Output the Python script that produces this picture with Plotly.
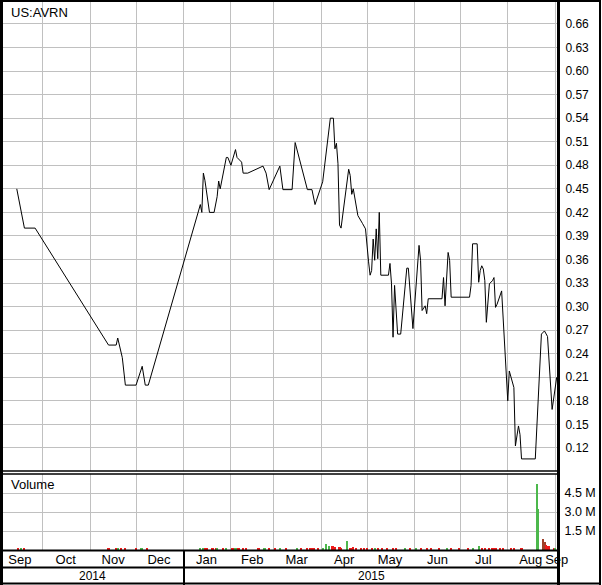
import plotly.graph_objects as go
import pandas as pd

# ---------------- data ----------------
symbol = "US:AVRN"

price_dates = [
    "2014-09-14", "2014-09-19", "2014-09-26", "2014-11-13", "2014-11-18", "2014-11-19",
    "2014-11-22", "2014-11-24", "2014-12-01", "2014-12-05", "2014-12-07", "2014-12-09",
    "2015-01-11", "2015-01-12", "2015-01-13", "2015-01-14", "2015-01-15", "2015-01-18",
    "2015-01-21", "2015-01-23", "2015-01-24", "2015-01-25", "2015-01-26", "2015-01-29",
    "2015-01-30", "2015-02-01", "2015-02-04", "2015-02-05", "2015-02-08", "2015-02-09",
    "2015-02-12", "2015-02-22", "2015-02-24", "2015-02-26", "2015-03-05", "2015-03-07",
    "2015-03-13", "2015-03-15", "2015-03-23", "2015-03-26", "2015-03-28", "2015-03-31",
    "2015-04-02", "2015-04-07", "2015-04-09", "2015-04-10", "2015-04-11", "2015-04-12",
    "2015-04-13", "2015-04-14", "2015-04-19", "2015-04-20", "2015-04-21", "2015-04-22",
    "2015-04-25", "2015-04-28", "2015-04-30",
    "2015-05-02", "2015-05-03", "2015-05-04", "2015-05-05", "2015-05-06", "2015-05-07",
    "2015-05-08", "2015-05-09", "2015-05-10", "2015-05-15", "2015-05-16", "2015-05-17",
    "2015-05-18", "2015-05-19", "2015-05-21", "2015-05-23", "2015-05-27", "2015-05-28",
    "2015-05-31", "2015-06-02", "2015-06-04", "2015-06-05", "2015-06-06", "2015-06-08",
    "2015-06-09", "2015-06-10", "2015-06-19", "2015-06-20", "2015-06-21", "2015-06-23",
    "2015-06-24", "2015-06-25", "2015-07-07", "2015-07-08", "2015-07-09", "2015-07-12",
    "2015-07-13", "2015-07-14", "2015-07-15", "2015-07-16", "2015-07-17", "2015-07-18",
    "2015-07-20", "2015-07-22", "2015-07-23", "2015-07-24", "2015-07-25", "2015-07-28",
    "2015-07-29", "2015-07-31", "2015-08-01", "2015-08-02", "2015-08-04", "2015-08-05",
    "2015-08-06", "2015-08-08", "2015-08-09", "2015-08-10", "2015-08-19", "2015-08-23",
    "2015-08-25", "2015-08-27", "2015-08-30", "2015-08-31", "2015-09-02",
]
price_values = [
    0.450, 0.400, 0.400, 0.251, 0.251, 0.260,
    0.235, 0.200, 0.200, 0.224, 0.200, 0.200,
    0.423, 0.430, 0.420, 0.470, 0.461, 0.420,
    0.420, 0.440, 0.460, 0.450, 0.460, 0.490,
    0.490, 0.480, 0.500, 0.490, 0.484, 0.470,
    0.470, 0.479, 0.470, 0.449, 0.479, 0.449,
    0.449, 0.509, 0.449, 0.449, 0.430, 0.448,
    0.459, 0.540, 0.540, 0.501, 0.508, 0.482,
    0.404, 0.400, 0.475, 0.467, 0.443, 0.450,
    0.416, 0.406, 0.399,
    0.357, 0.340, 0.346, 0.386, 0.359, 0.399,
    0.361, 0.420, 0.340, 0.340, 0.355, 0.329,
    0.261, 0.327, 0.265, 0.265, 0.349, 0.349,
    0.272, 0.320, 0.378, 0.359, 0.295, 0.301,
    0.291, 0.310, 0.310, 0.337, 0.301, 0.369,
    0.359, 0.312, 0.312, 0.327, 0.380, 0.380,
    0.331, 0.346, 0.352, 0.348, 0.333, 0.280,
    0.329, 0.333, 0.337, 0.299, 0.303, 0.320,
    0.286, 0.2225, 0.180, 0.218, 0.206, 0.197,
    0.1225, 0.148, 0.137, 0.106, 0.106, 0.265,
    0.269, 0.262, 0.169, 0.182, 0.210,
]

vol_dates = [
    "2014-09-15", "2014-09-17", "2014-09-19", "2014-11-13", "2014-11-18", "2014-11-19",
    "2014-11-21", "2014-11-24", "2014-12-01", "2014-12-04", "2014-12-05", "2014-12-08",
    "2015-01-12", "2015-01-14", "2015-01-15", "2015-01-16", "2015-01-20", "2015-01-22",
    "2015-01-23", "2015-01-27", "2015-01-29", "2015-02-02", "2015-02-04", "2015-02-06",
    "2015-02-09", "2015-02-11", "2015-02-19", "2015-02-23", "2015-02-26", "2015-03-02",
    "2015-03-05", "2015-03-09", "2015-03-16", "2015-03-19", "2015-03-23", "2015-03-25",
    "2015-03-27", "2015-03-30", "2015-04-02", "2015-04-04", "2015-04-06", "2015-04-08",
    "2015-04-09", "2015-04-10", "2015-04-13", "2015-04-14", "2015-04-18", "2015-04-20",
    "2015-04-21", "2015-04-22", "2015-04-24", "2015-04-27", "2015-04-29", "2015-05-01",
    "2015-05-04", "2015-05-06", "2015-05-08", "2015-05-11", "2015-05-14", "2015-05-18",
    "2015-05-20", "2015-05-26", "2015-05-29", "2015-06-02", "2015-06-05", "2015-06-09",
    "2015-06-12", "2015-06-17", "2015-06-22", "2015-06-25", "2015-06-30", "2015-07-06",
    "2015-07-09", "2015-07-13", "2015-07-15", "2015-07-17", "2015-07-20", "2015-07-22",
    "2015-07-24", "2015-07-27", "2015-07-29", "2015-08-03", "2015-08-05", "2015-08-10",
    "2015-08-20", "2015-08-21", "2015-08-24", "2015-08-25", "2015-08-26", "2015-08-27",
    "2015-08-28", "2015-08-31", "2015-09-01",
]
vol_millions = [
    0.08, 0.08, 0.08, 0.08, 0.10, 0.10,
    0.08, 0.12, 0.08, 0.10, 0.12, 0.08,
    0.15, 0.10, 0.08, 0.08, 0.08, 0.10,
    0.08, 0.08, 0.08, 0.08, 0.08, 0.08,
    0.10, 0.08, 0.08, 0.08, 0.08, 0.10,
    0.08, 0.08, 0.10, 0.08, 0.10, 0.14,
    0.12, 0.10, 0.12, 0.47, 0.30, 0.28,
    0.32, 0.22, 0.25, 0.14, 0.73, 0.18,
    0.15, 0.20, 0.14, 0.18, 0.12, 0.10,
    0.08, 0.08, 0.08, 0.08, 0.08, 0.08,
    0.08, 0.08, 0.08, 0.08, 0.08, 0.08,
    0.08, 0.08, 0.08, 0.08, 0.08, 0.08,
    0.10, 0.34, 0.12, 0.10, 0.10, 0.08,
    0.10, 0.08, 0.08, 0.08, 0.08, 0.08,
    5.20, 3.24, 0.87, 0.65, 0.36, 0.34,
    0.30, 0.08, 0.10,
]
vol_direction = [
    "d", "u", "d", "d", "d", "u",
    "d", "d", "d", "u", "u", "d",
    "u", "u", "d", "d", "d", "d",
    "u", "d", "u", "d", "u", "d",
    "d", "d", "d", "u", "d", "d",
    "u", "d", "u", "d", "d", "d",
    "d", "d", "u", "u", "u", "d",
    "d", "d", "d", "d", "u", "d",
    "d", "d", "d", "d", "d", "d",
    "d", "u", "d", "d", "d", "d",
    "d", "u", "d", "u", "d", "d",
    "d", "d", "u", "d", "d", "d",
    "u", "u", "d", "d", "d", "d",
    "d", "d", "d", "d", "d", "d",
    "u", "u", "b", "b", "d", "d",
    "d", "d", "u",
]

price_ticks = [0.12, 0.15, 0.18, 0.21, 0.24, 0.27, 0.30, 0.33, 0.36, 0.39,
               0.42, 0.45, 0.48, 0.51, 0.54, 0.57, 0.60, 0.63, 0.66]
vol_ticks_m = [1.5, 3.0, 4.5]
month_label_dates = ["2014-09-16", "2014-10-16", "2014-11-16", "2014-12-16", "2015-01-16",
                     "2015-02-15", "2015-03-16", "2015-04-16", "2015-05-16", "2015-06-16",
                     "2015-07-16", "2015-08-16", "2015-09-02"]
month_labels = ["Sep", "Oct", "Nov", "Dec", "Jan", "Feb", "Mar", "Apr", "May", "Jun",
                "Jul", "Aug", "Sep"]
years = ["2014", "2015"]

x_start, x_end = "2014-09-05", "2015-09-03 12:00"

# ---------------- figure ----------------
W, H = 602, 585
ML, MR, MT, MB = 3, 43, 2, 35
PW, PH = W - ML - MR, H - MT - MB
FONT = "Arial, Liberation Sans, sans-serif"
GRID = "#C0C0C0"


def px_x(p):
    return (p - ML) / PW


def px_y(p):
    return (H - MB - p) / PH


main_bottom = px_y(471)
vol_top = px_y(474)

month_starts = pd.date_range("2014-10-01", "2015-09-01", freq="MS").strftime("%Y-%m-%d").tolist()

colors_map = {"u": "#4CB84C", "d": "#EE1A1A", "b": "#A0402A"}

fig = go.Figure()
fig.add_trace(go.Scatter(x=price_dates, y=price_values, mode="lines",
                         line=dict(color="black", width=1), xaxis="x", yaxis="y",
                         showlegend=False, hoverinfo="skip"))
fig.add_trace(go.Bar(x=vol_dates, y=[v * 1e6 for v in vol_millions],
                     marker=dict(color=[colors_map[d] for d in vol_direction], line=dict(width=0)),
                     width=86400000 * 1.4, xaxis="x2", yaxis="y2",
                     showlegend=False, hoverinfo="skip"))

fig.update_layout(
    width=W, height=H,
    margin=dict(l=ML, r=MR, t=MT, b=MB, pad=0, autoexpand=False),
    paper_bgcolor="white", plot_bgcolor="white",
    font=dict(family=FONT, size=12, color="black"),
    bargap=0,
    xaxis=dict(type="date", range=[x_start, x_end], domain=[0, 1], anchor="y",
               tickmode="array", tickvals=month_starts, showticklabels=False, ticks="",
               showgrid=True, gridcolor=GRID, gridwidth=1, zeroline=False, showline=False),
    yaxis=dict(domain=[main_bottom, 1], range=[0.0906, 0.688], side="right", anchor="x",
               tickmode="array", tickvals=price_ticks,
               ticktext=[f"{t:.2f}" for t in price_ticks],
               ticks="outside", ticklen=3, tickcolor="rgba(0,0,0,0)",
               tickfont=dict(size=12, family=FONT, color="black"),
               showgrid=True, gridcolor=GRID, gridwidth=1, zeroline=False, showline=False),
    xaxis2=dict(type="date", range=[x_start, x_end], domain=[0, 1], anchor="y2",
                tickmode="array", tickvals=month_label_dates, ticktext=month_labels,
                ticks="", showgrid=False, zeroline=False, showline=False,
                tickfont=dict(size=13, family=FONT, color="black"),
                minor=dict(tickmode="array", tickvals=month_starts, showgrid=True,
                           gridcolor=GRID, gridwidth=1, ticks="")),
    yaxis2=dict(domain=[0, vol_top], range=[0, 6e6], side="right", anchor="x2",
                tickmode="array", tickvals=[v * 1e6 for v in vol_ticks_m],
                ticktext=[f"{v:.1f} M" for v in vol_ticks_m],
                ticks="outside", ticklen=2, tickcolor="rgba(0,0,0,0)",
                tickfont=dict(size=12.5, family=FONT, color="black"),
                showgrid=True, gridcolor=GRID, gridwidth=1, zeroline=False, showline=False),
)

shapes = []


def hline(y, x0, x1, w):
    shapes.append(dict(type="line", xref="paper", yref="paper", x0=px_x(x0), x1=px_x(x1),
                       y0=px_y(y), y1=px_y(y), line=dict(color="black", width=w), layer="above"))


def vline(x, y0, y1, w):
    shapes.append(dict(type="line", xref="paper", yref="paper", x0=px_x(x), x1=px_x(x),
                       y0=px_y(y0), y1=px_y(y1), line=dict(color="black", width=w), layer="above"))


# outer frame
hline(1, 0, 601, 2)
hline(583.5, 0, 601, 2)
vline(1.5, 0, 585, 3)
vline(600, 0, 585, 2)
# right axis line
vline(558.5, 0, 585, 3)
# main / volume separator (double line)
hline(471, 0, 559, 1.5)
hline(474, 0, 559, 1.5)
# volume bottom, month row bottom
hline(550.5, 0, 559, 2)
hline(567.5, 0, 559, 2)
# year separator
vline(184, 550, 585, 2)

fig.update_layout(shapes=shapes)

annotations = [
    dict(text=symbol, xref="paper", yref="paper", x=px_x(9), y=px_y(12), xanchor="left",
         yanchor="middle", showarrow=False, font=dict(size=13, family=FONT, color="black")),
    dict(text="Volume", xref="paper", yref="paper", x=px_x(9), y=px_y(484), xanchor="left",
         yanchor="middle", showarrow=False, font=dict(size=13, family=FONT, color="black")),
    dict(text=years[0], xref="paper", yref="paper", x=px_x(92), y=px_y(576), xanchor="center",
         yanchor="middle", showarrow=False, font=dict(size=12, family=FONT, color="black")),
    dict(text=years[1], xref="paper", yref="paper", x=px_x(371), y=px_y(576), xanchor="center",
         yanchor="middle", showarrow=False, font=dict(size=12, family=FONT, color="black")),
]
fig.update_layout(annotations=annotations)

fig.write_html("out.html", config={"displayModeBar": False},
               post_script="document.body.style.margin='0';document.body.style.padding='0';")
